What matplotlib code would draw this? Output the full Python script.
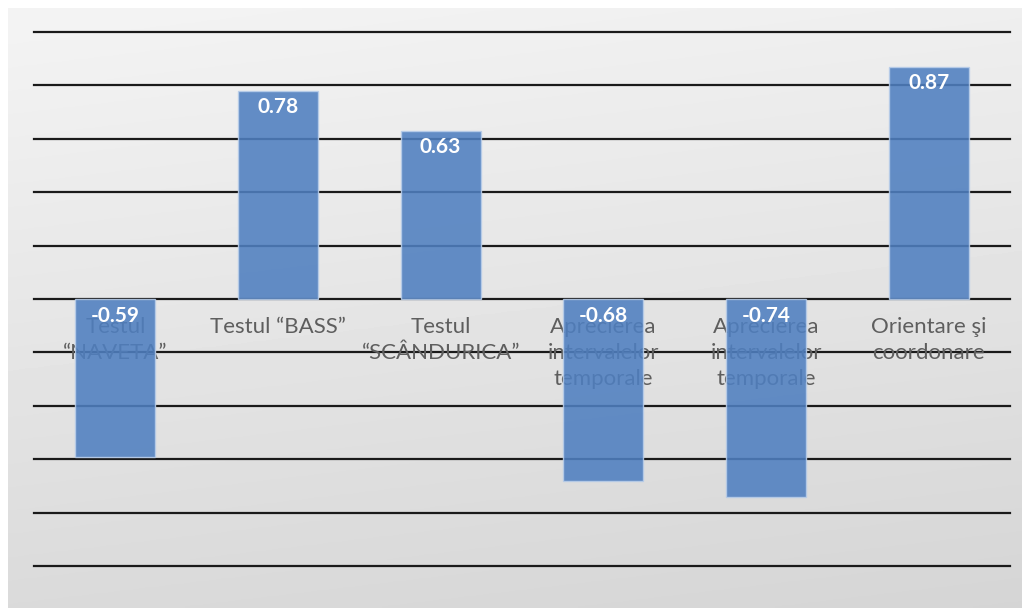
import numpy as np
import matplotlib.pyplot as plt

# data
categories = ["Testul\n\u201cNAVETA\u201d", "Testul \u201cBASS\u201d", "Testul\n\u201cSC\u00c2NDURICA\u201d",
              "Aprecierea\nintervalelor\ntemporale", "Aprecierea\nintervalelor\ntemporale",
              "Orientare \u015fi\ncoordonare"]
values = [-0.59, 0.78, 0.63, -0.68, -0.74, 0.87]
labels = ["-0.59", "0.78", "0.63", "-0.68", "-0.74", "0.87"]
grid_levels = np.arange(-1.0, 1.01, 0.2)

plt.rcParams['font.family'] = ['Lato', 'DejaVu Sans']

fig = plt.figure(figsize=(10.22, 6.08), dpi=100, facecolor='white')

# gradient background
bg = fig.add_axes([8/1022, 0, 1 - 8/1022, 1 - 8/608])
yy, xx = np.mgrid[0:1:200j, 0:1:200j]
shade = 0.955 - 0.10*yy - 0.02*xx
bg.imshow(shade, cmap='gray', vmin=0, vmax=1, aspect='auto', extent=[0, 1, 1, 0])
bg.axis('off')

ax = fig.add_axes([34/1022, 1 - 566/608, (1010-34)/1022, (566-32)/608])
ax.patch.set_alpha(0)
x = np.arange(len(values))

for g in grid_levels:
    ax.axhline(g, color='#1a1a1a', lw=1.6, zorder=1, clip_on=False)

# category labels sit under the bars
for i, c in enumerate(categories):
    ax.annotate(c, (i, 0), xytext=(0, -13), textcoords='offset points',
                ha='center', va='top', fontsize=16, color='#5e5e5e',
                linespacing=1.38, zorder=2)

ax.bar(x, values, width=0.49, color='#4f7fc0', alpha=0.88,
       edgecolor='#b8cde9', linewidth=1, zorder=3)

for i, (v, t) in enumerate(zip(values, labels)):
    ax.annotate(t, (i, max(v, 0)), xytext=(0, -12), textcoords='offset points',
                ha='center', va='center', fontsize=15, fontweight='bold',
                color='white', zorder=4)

ax.set_xlim(-0.5, 5.5)
ax.set_ylim(-1.0, 1.0)
ax.axis('off')

fig.savefig('out.png', dpi=100)
